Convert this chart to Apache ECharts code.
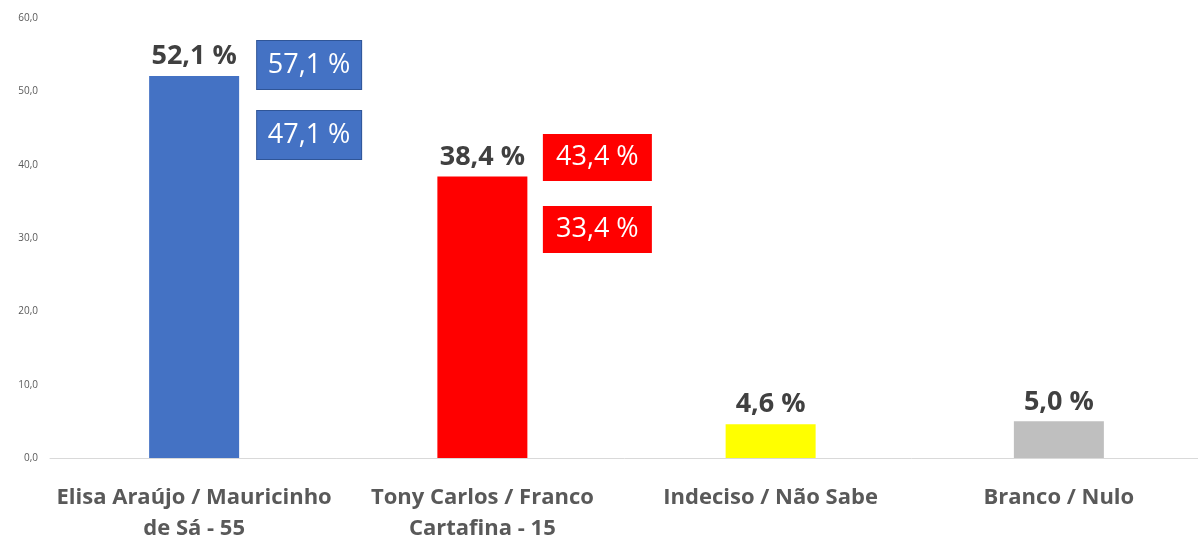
<!DOCTYPE html>
<html>
<head>
<meta charset="utf-8">
<script src="https://cdn.jsdelivr.net/npm/echarts@6/dist/echarts.min.js"></script>
<style>
  html, body { margin: 0; padding: 0; background: #fff; }
  #chart { width: 1198px; height: 540px; }
</style>
</head>
<body>
<div id="chart"></div>
<script>
var categories = ['Elisa Araújo / Mauricinho\nde Sá - 55', 'Tony Carlos / Franco\nCartafina - 15', 'Indeciso / Não Sabe', 'Branco / Nulo'];
var values = [52.1, 38.4, 4.6, 5.0];
var colors = ['#4472C4', '#FF0000', '#FFFF00', '#BFBFBF'];
// margem de erro (só para os dois candidatos)
var marginUpper = [57.1, 43.4];
var marginLower = [47.1, 33.4];
var yTicks = [0, 10, 20, 30, 40, 50, 60];

function fmt(v) {
  return v.toFixed(1).replace('.', ',');
}

var font = '"Open Sans", "Liberation Sans", sans-serif';

// caixas de margem: posicionadas a partir do topo de cada barra
var boxOffsets = [
  { up: [115, -11], low: [115, 59], fill: '#4472C4', border: '#2F5597', w: 104, h: 48 },
  { up: [115, -19], low: [115, 53], fill: '#FF0000', border: '#FF0000', w: 107, h: 45 }
];

function boxData(arr, key) {
  return arr.map(function (m, i) {
    var b = boxOffsets[i];
    return {
      value: [i, values[i]],
      itemStyle: { opacity: 1 },
      label: {
        show: true,
        formatter: fmt(m) + ' %',
        offset: b[key],
        position: 'inside',
        backgroundColor: b.fill,
        borderColor: b.border,
        borderWidth: 1,
        width: b.w,
        height: b.h,
        lineHeight: b.h,
        align: 'center',
        verticalAlign: 'middle',
        color: '#fff',
        fontSize: 27,
        fontFamily: font
      }
    };
  });
}

var myChart = echarts.init(document.getElementById('chart'));
var option = {
  backgroundColor: '#fff',
  animation: false,
  grid: { left: 50, right: -5, top: 18, bottom: 82, containLabel: false, outerBoundsMode: 'none' },
  xAxis: {
    type: 'category',
    data: categories,
    axisLine: { lineStyle: { color: '#D9D9D9', width: 1 } },
    axisTick: { show: false },
    axisLabel: {
      color: '#595959',
      fontSize: 22,
      fontWeight: 'bold',
      fontFamily: font,
      lineHeight: 31,
      margin: 24,
      interval: 0
    }
  },
  yAxis: {
    type: 'value',
    min: yTicks[0],
    max: yTicks[yTicks.length - 1],
    interval: 10,
    splitLine: { show: false },
    axisLine: { show: false },
    axisTick: { show: false },
    axisLabel: {
      color: '#595959',
      fontSize: 10,
      fontFamily: font,
      margin: 12,
      formatter: function (v) { return fmt(v); }
    }
  },
  series: [
    {
      type: 'bar',
      barWidth: 90,
      data: values.map(function (v, i) {
        return { value: v, itemStyle: { color: colors[i] } };
      }),
      label: {
        show: true,
        position: 'top',
        distance: 6,
        color: '#404040',
        fontSize: 27,
        fontWeight: 'bold',
        fontFamily: font,
        formatter: function (p) { return fmt(p.value) + ' %'; }
      }
    },
    {
      type: 'scatter',
      symbolSize: 0,
      silent: true,
      z: 5,
      itemStyle: { opacity: 1 },
      data: boxData(marginUpper, 'up')
    },
    {
      type: 'scatter',
      symbolSize: 0,
      silent: true,
      z: 5,
      itemStyle: { opacity: 1 },
      data: boxData(marginLower, 'low')
    }
  ]
};
myChart.setOption(option);
</script>
</body>
</html>
